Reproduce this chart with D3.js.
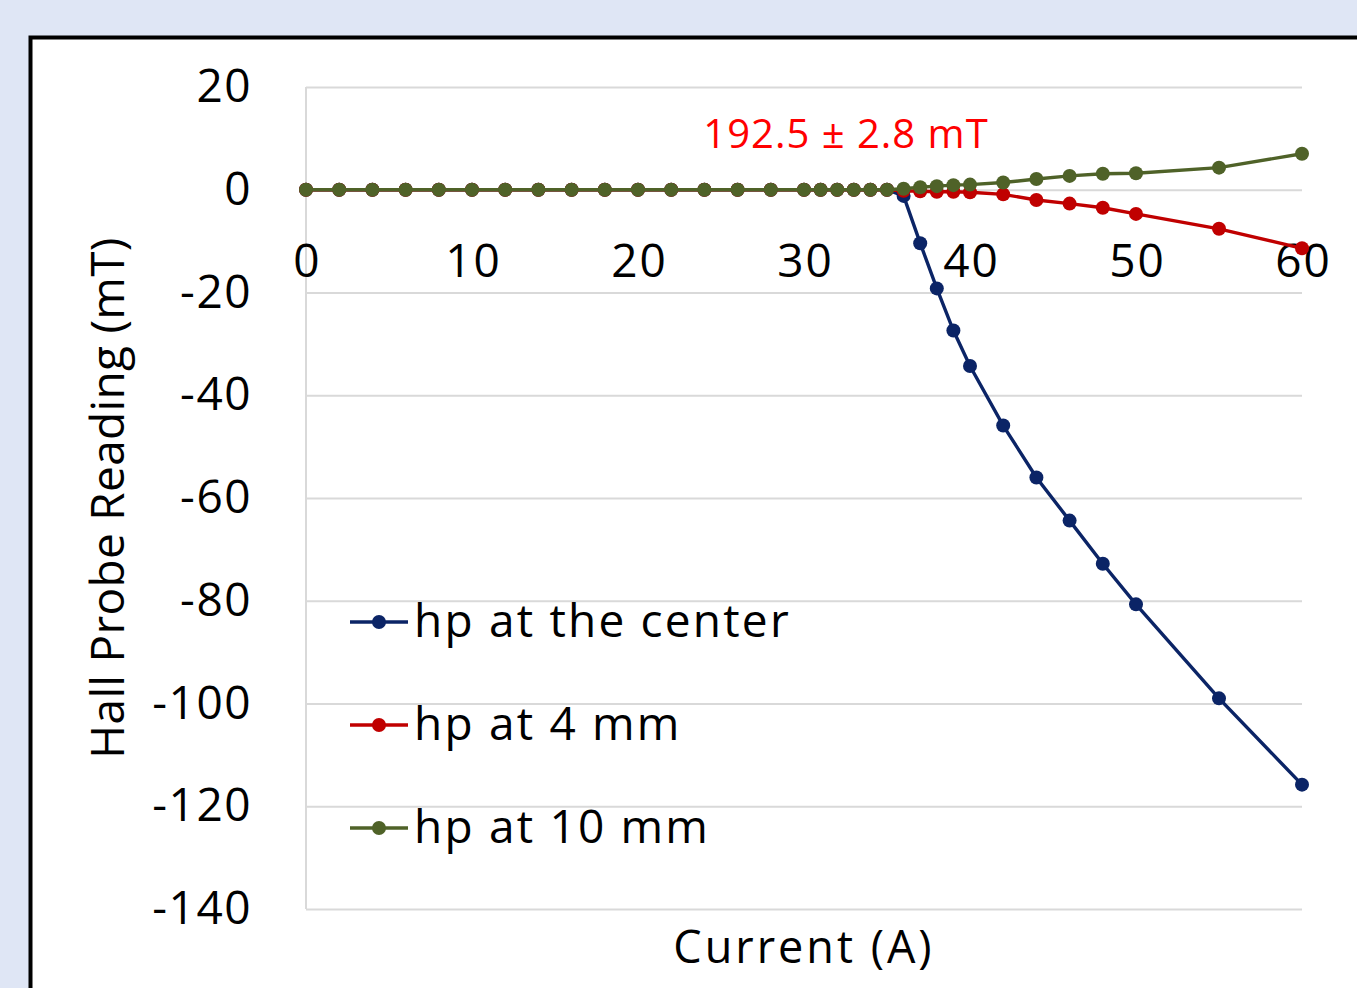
<!DOCTYPE html>
<html>
<head>
<meta charset="utf-8">
<script src="https://cdn.jsdelivr.net/npm/d3@7"></script>
<style>
  body { margin: 0; background: #dfe6f5; }
  svg { display: block; font-family: "Open Sans", sans-serif; }
</style>
</head>
<body>
<div id="graph"></div>
<script>
// current values (A)
const current = [0, 2, 4, 6, 8, 10, 12, 14, 16, 18, 20, 22, 24, 26, 28, 30,
  31, 32, 33, 34, 35, 36, 37, 38, 39, 40, 42, 44, 46, 48, 50, 55, 60];

const hpCenter = [0, 0, 0, 0, 0, 0, 0, 0, 0, 0, 0, 0, 0, 0, 0, 0,
  0, 0, 0, 0, 0, -1.2, -10.4, -19.2, -27.4, -34.3, -45.9, -56.0, -64.4, -72.8, -80.7, -99.0, -115.8];
const hp4mm = [0, 0, 0, 0, 0, 0, 0, 0, 0, 0, 0, 0, 0, 0, 0, 0,
  0, 0, 0, 0, 0, -0.2, -0.3, -0.4, -0.4, -0.5, -0.9, -2.0, -2.7, -3.5, -4.7, -7.6, -11.4];
const hp10mm = [0, 0, 0, 0, 0, 0, 0, 0, 0, 0, 0, 0, 0, 0, 0, 0,
  0, 0, 0, 0, 0, 0.2, 0.5, 0.7, 0.9, 1.0, 1.4, 2.1, 2.7, 3.1, 3.2, 4.3, 7.0];

const seriesNames = ["hp at the center", "hp at 4 mm", "hp at 10 mm"];
const seriesColors = ["#0b2466", "#c00000", "#4f6228"];
const xTicks = [0, 10, 20, 30, 40, 50, 60];
const yTicks = [20, 0, -20, -40, -60, -80, -100, -120, -140];

const width = 1357, height = 988;

const svg = d3.select("#graph").append("svg")
    .attr("width", width)
    .attr("height", height);

// chart area frame
svg.append("rect")
    .attr("x", 30.5).attr("y", 37.5)
    .attr("width", width).attr("height", height)
    .attr("fill", "white")
    .attr("stroke", "black")
    .attr("stroke-width", 4);

const x = d3.scaleLinear().domain([0, 60]).range([306, 1302]);
const y = d3.scaleLinear().domain([-140, 20]).range([909, 87]);

// y axis + gridlines
const yAxis = svg.append("g")
    .attr("transform", `translate(${x(0)},0)`)
    .call(d3.axisLeft(y).tickValues(yTicks).tickFormat(d => String(d))
        .tickSize(-(x(60) - x(0))).tickPadding(54));
yAxis.select(".domain").remove();
yAxis.selectAll("line").attr("stroke", "#d9d9d9").attr("stroke-width", 2);
yAxis.selectAll("text")
    .attr("font-size", 46)
    .attr("fill", "#000")
    .style("font-family", "Open Sans")
    .style("letter-spacing", "1.5px");

svg.append("line")
    .attr("x1", x(0)).attr("x2", x(0))
    .attr("y1", y(20)).attr("y2", y(-140))
    .attr("stroke", "#d9d9d9").attr("stroke-width", 2);

// x axis labels at y = 0
const xAxis = svg.append("g")
    .attr("transform", `translate(0,${y(0)})`)
    .call(d3.axisBottom(x).tickValues(xTicks).tickSize(0).tickPadding(55));
xAxis.select(".domain").remove();
xAxis.selectAll("text")
    .attr("font-size", 46)
    .attr("fill", "#000")
    .attr("dx", "1px")
    .style("font-family", "Open Sans")
    .style("letter-spacing", "2px");

// series
const allSeries = [hpCenter, hp4mm, hp10mm];
const line = d3.line()
    .x(d => x(d[0]))
    .y(d => y(d[1]));

allSeries.forEach((vals, i) => {
    const pts = current.map((c, j) => [c, vals[j]]);
    const g = svg.append("g");
    g.append("path")
        .datum(pts)
        .attr("fill", "none")
        .attr("stroke", seriesColors[i])
        .attr("stroke-width", 3.4)
        .attr("d", line);
    g.selectAll("circle")
        .data(pts)
        .enter().append("circle")
        .attr("cx", d => x(d[0]))
        .attr("cy", d => y(d[1]))
        .attr("r", 7)
        .attr("fill", seriesColors[i]);
});

// annotation
svg.append("text")
    .attr("x", 846).attr("y", 148)
    .attr("text-anchor", "middle")
    .attr("font-size", 40)
    .attr("fill", "#ff0000")
    .style("letter-spacing", "1px")
    .text("192.5 ± 2.8 mT");

// axis titles
svg.append("text")
    .attr("transform", `translate(124,498) rotate(-90)`)
    .attr("text-anchor", "middle")
    .attr("font-size", 46)
    .attr("fill", "#000")
    .style("letter-spacing", "0.3px")
    .text("Hall Probe Reading (mT)");

svg.append("text")
    .attr("x", 804).attr("y", 963)
    .attr("text-anchor", "middle")
    .attr("font-size", 45)
    .attr("fill", "#000")
    .style("letter-spacing", "3px")
    .text("Current (A)");

// legend
const legend = svg.append("g");
seriesNames.forEach((name, i) => {
    const ly = 622 + i * 103;
    legend.append("line")
        .attr("x1", 350).attr("x2", 408)
        .attr("y1", ly).attr("y2", ly)
        .attr("stroke", seriesColors[i]).attr("stroke-width", 3.4);
    legend.append("circle")
        .attr("cx", 379).attr("cy", ly).attr("r", 7)
        .attr("fill", seriesColors[i]);
    legend.append("text")
        .attr("x", 414).attr("y", ly + 15)
        .attr("font-size", 46)
        .attr("fill", "#000")
        .style("letter-spacing", "2.2px")
        .text(name);
});
</script>
</body>
</html>
